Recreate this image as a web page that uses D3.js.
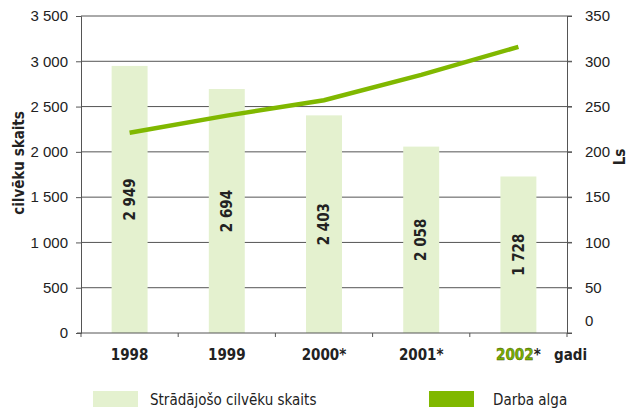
<!doctype html>
<html>
<head>
<meta charset="utf-8">
<style>
  body { margin: 0; background: #fff; }
  svg { display: block; font-family: "Liberation Sans Narrow", "DejaVu Sans Condensed", sans-serif; }
  .lbl { font-size: 15px; fill: #222; }
  .bold { font-weight: bold; }
</style>
<script src="https://d3js.org/d3.v7.min.js"></script>
</head>
<body>
<svg width="636" height="410"></svg>
<script>
var years = ["1998", "1999", "2000*", "2001*", "2002*"];
var workers = [2949, 2694, 2403, 2058, 1728];
var barLabels = ["2 949", "2 694", "2 403", "2 058", "1 728"];
var wage = [221, 240, 257, 285, 316];
var leftTicks = [0, 500, 1000, 1500, 2000, 2500, 3000, 3500];
var rightTicks = [0, 50, 100, 150, 200, 250, 300, 350];

var svg = d3.select("svg");
var x0 = 81, x1 = 567, yTop = 16, yBot = 333;

var x = d3.scaleBand().domain(years).range([x0, x1]).padding(0);
var y = d3.scaleLinear().domain([0, 3500]).range([yBot, yTop]);
var y2 = d3.scaleLinear().domain([0, 350]).range([yBot, yTop]);

var fmt = function(d) { return d3.format(",")(d).replace(",", " "); };

// gridlines
svg.append("g").selectAll("line")
   .data(leftTicks.slice(1))
   .enter().append("line")
   .attr("x1", x0).attr("x2", x1 + 5)
   .attr("y1", function(d) { return y(d); })
   .attr("y2", function(d) { return y(d); })
   .attr("stroke", "#555").attr("stroke-width", 1);

// bars
var bw = x.bandwidth() * 0.37;
svg.append("g").selectAll("rect")
   .data(workers)
   .enter().append("rect")
   .attr("x", function(d, i) { return x(years[i]) + x.bandwidth() / 2 - bw / 2; })
   .attr("y", function(d) { return y(d); })
   .attr("width", bw)
   .attr("height", function(d) { return yBot - y(d); })
   .attr("fill", "#e4f1cf");

// bar value labels
svg.append("g").selectAll("text")
   .data(workers)
   .enter().append("text")
   .attr("class", "lbl bold")
   .attr("text-anchor", "middle")
   .attr("dy", "0.35em")
   .attr("transform", function(d, i) {
       var cx = x(years[i]) + x.bandwidth() / 2;
       var cy = (y(d) + yBot) / 2;
       return "translate(" + cx + "," + cy + ") rotate(-90)";
   })
   .text(function(d, i) { return barLabels[i]; });

// left axis
var gl = svg.append("g").attr("transform", "translate(" + x0 + ",0)");
gl.call(d3.axisLeft(y).tickValues(leftTicks).tickSize(5).tickPadding(8).tickFormat(fmt));
gl.select(".domain").attr("stroke", "#555");
gl.selectAll(".tick line").attr("stroke", "#555");
gl.selectAll(".tick text").attr("class", "lbl").attr("font-size", null).attr("font-family", null);

// right axis
var gr = svg.append("g").attr("transform", "translate(" + x1 + ",0)");
gr.call(d3.axisRight(y2).tickValues(rightTicks).tickSize(5).tickPadding(13));
gr.select(".domain").attr("stroke", "#555");
gr.selectAll(".tick line").attr("stroke", "#555");
gr.selectAll(".tick text").attr("class", "lbl").attr("font-size", null).attr("font-family", null)
  .attr("y", function(d) { return d === 0 ? -12 : 0; });

// x axis
svg.append("line")
   .attr("x1", x0 - 4).attr("x2", x1 + 5)
   .attr("y1", yBot).attr("y2", yBot)
   .attr("stroke", "#555");
svg.append("g").selectAll("line")
   .data(years.map(function(d) { return x(d); }).concat([x1]))
   .enter().append("line")
   .attr("x1", function(d) { return d; }).attr("x2", function(d) { return d; })
   .attr("y1", yBot).attr("y2", yBot + 4)
   .attr("stroke", "#555");

var xl = svg.append("g").selectAll("text")
   .data(years)
   .enter().append("text")
   .attr("class", "lbl bold")
   .attr("text-anchor", "middle")
   .attr("x", function(d) { return x(d) + x.bandwidth() / 2; })
   .attr("y", 360);
xl.each(function(d) {
    var t = d3.select(this);
    if (d === "2002*") {
        t.append("tspan").text("2002").attr("fill", "#78b000")
         .attr("stroke", "#3a4a00").attr("stroke-width", 0.4);
        t.append("tspan").text("*");
    } else {
        t.text(d);
    }
});
svg.append("text").attr("class", "lbl bold").attr("x", 554).attr("y", 360).text("gadi");

// axis titles
svg.append("text").attr("class", "lbl bold").attr("text-anchor", "middle")
   .attr("transform", "translate(24,163) rotate(-90)").text("cilvēku skaits");
svg.append("text").attr("class", "lbl bold").attr("text-anchor", "middle")
   .attr("transform", "translate(625,157) rotate(-90)").text("Ls");

// wage line
var line = d3.line()
   .x(function(d, i) { return x(years[i]) + x.bandwidth() / 2; })
   .y(function(d) { return y2(d); });
svg.append("path")
   .datum(wage)
   .attr("d", line)
   .attr("fill", "none")
   .attr("stroke", "#80b800")
   .attr("stroke-width", 4.5);

// legend
svg.append("rect").attr("x", 93).attr("y", 391).attr("width", 45).attr("height", 16).attr("fill", "#e4f1cf");
svg.append("text").attr("class", "lbl").attr("x", 150).attr("y", 405).text("Strādājošo cilvēku skaits");
svg.append("rect").attr("x", 429).attr("y", 391).attr("width", 45).attr("height", 16).attr("fill", "#80b800");
svg.append("text").attr("class", "lbl").attr("x", 493).attr("y", 405).text("Darba alga");
</script>
</body>
</html>
